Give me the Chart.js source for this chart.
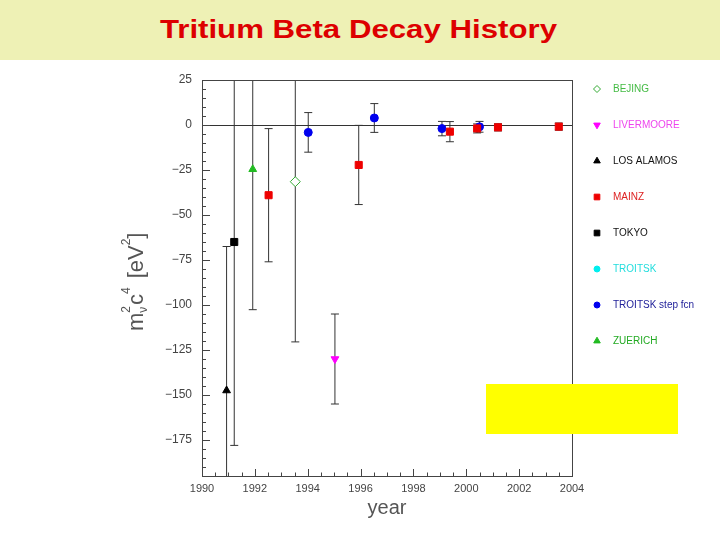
<!DOCTYPE html>
<html>
<head>
<meta charset="utf-8">
<script src="https://cdn.jsdelivr.net/npm/chart.js@4.4.1/dist/chart.umd.min.js"></script>
<style>
  body { margin: 0; background: #fff; width: 720px; height: 540px; position: relative; overflow: hidden; }
  #band { position: absolute; left: 0; top: 0; width: 720px; height: 60px; background: #eef1b5; text-align: center; }
  #band span { display: inline-block; margin-right: 4px; font: bold 26px "Liberation Sans", Arial, sans-serif; color: #dd0000; line-height: 58px; transform: scaleX(1.2); }
  #c { position: absolute; left: 0; top: 0; }
</style>
</head>
<body>
<div id="band"><span>Tritium Beta Decay History</span></div>
<canvas id="c" width="720" height="540"></canvas>
<script>
// axis ticks
const yearTicks = [1990, 1992, 1994, 1996, 1998, 2000, 2002, 2004];
const massTicks = [-175, -150, -125, -100, -75, -50, -25, 0, 25];

const bejingYear = [1993.53];
const bejingMass = [-31.5];
const bejingErr = [89];

const livermooreYear = [1995.03];
const livermooreMass = [-130];
const livermooreErr = [25];

const losAlamosYear = [1990.93];
const losAlamosMass = [-147.5];
const losAlamosErr = [80];

const mainzYear = [1992.52, 1995.93, 1999.38, 2000.41, 2001.2, 2003.5];
const mainzMass = [-39, -22.2, -3.7, -1.9, -1.3, -0.9];
const mainzErr = [37, 22, 5.6, 2.5, 2, 2];

const tokyoYear = [1991.22];
const tokyoMass = [-65];
const tokyoErr = [113];

const troitskYear = [];
const troitskMass = [];
const troitskErr = [];

const stepYear = [1994.02, 1996.52, 1999.08, 2000.5];
const stepMass = [-4.1, 3.9, -2.0, -1.0];
const stepErr = [11, 8, 4, 3];

const zuerichYear = [1991.92];
const zuerichMass = [-24.6];
const zuerichErr = [78];

function pts(xs, ys) {
    return xs.map((x, i) => ({ x: x, y: ys[i] }));
}

const FONT = '"Liberation Sans", Arial, sans-serif';

const extras = {
    id: "extras",
    beforeDatasetsDraw(chart) {
        const { ctx, chartArea: a, scales: { x, y } } = chart;
        ctx.save();
        ctx.beginPath();
        ctx.rect(a.left, a.top, a.right - a.left, a.bottom - a.top);
        ctx.clip();
        ctx.strokeStyle = "#333";
        ctx.lineWidth = 1;
        chart.data.datasets.forEach(ds => {
            ds.data.forEach((p, i) => {
                const e = ds.errors[i];
                const px = x.getPixelForValue(p.x);
                const top = y.getPixelForValue(p.y + e);
                const bot = y.getPixelForValue(p.y - e);
                ctx.beginPath();
                ctx.moveTo(px, top); ctx.lineTo(px, bot);
                ctx.moveTo(px - 4, top); ctx.lineTo(px + 4, top);
                ctx.moveTo(px - 4, bot); ctx.lineTo(px + 4, bot);
                ctx.stroke();
            });
        });
        ctx.restore();
    },
    afterDraw(chart) {
        const { ctx, chartArea: a, scales: { x, y } } = chart;
        ctx.save();

        // frame
        ctx.strokeStyle = "#444";
        ctx.lineWidth = 1;
        ctx.strokeRect(a.left + 0.5, a.top + 0.5, a.right - a.left, a.bottom - a.top);

        // inward ticks
        ctx.beginPath();
        for (let v = -195; v <= 25; v += 5) {
            const py = Math.round(y.getPixelForValue(v)) + 0.5;
            const len = v % 25 === 0 ? 8 : 4;
            ctx.moveTo(a.left, py); ctx.lineTo(a.left + len, py);
        }
        for (let v = 1990; v <= 2004; v += 0.5) {
            const px = Math.round(x.getPixelForValue(v)) + 0.5;
            const len = v % 2 === 0 ? 7 : 3.5;
            ctx.moveTo(px, a.bottom); ctx.lineTo(px, a.bottom - len);
        }
        ctx.stroke();

        // y axis title  m_nu^2 c^4 [eV^2]
        ctx.save();
        ctx.translate(143, 331);
        ctx.rotate(-Math.PI / 2);
        ctx.fillStyle = "#555";
        const big = "22px " + FONT, small = "12px " + FONT;
        let u = 0;
        ctx.font = big; ctx.fillText("m", u, 0); u += ctx.measureText("m").width;
        ctx.font = small; ctx.fillText("\u03bd", u, 4); ctx.fillText("2", u, -13); u += ctx.measureText("2").width + 1;
        ctx.font = big; ctx.fillText("c", u, 0); u += ctx.measureText("c").width;
        ctx.font = small; ctx.fillText("4", u, -13); u += ctx.measureText("4").width + 9;
        ctx.font = big; ctx.fillText("[eV", u, 0); u += ctx.measureText("[eV").width;
        ctx.font = small; ctx.fillText("2", u, -13); u += ctx.measureText("2").width;
        ctx.font = big; ctx.fillText("]", u, 0);
        ctx.restore();

        // legend
        ctx.font = "10px " + FONT;
        ctx.textBaseline = "middle";
        chart.data.datasets.forEach((ds, i) => {
            const ly = 89 + i * 36;
            ctx.fillStyle = ds.backgroundColor;
            ctx.strokeStyle = ds.borderColor;
            Chart.helpers.drawPoint(ctx, {
                pointStyle: ds.pointStyle,
                radius: ds.legendRadius,
                rotation: ds.rotation || 0,
                borderWidth: 1
            }, 597, ly);
            ctx.fillStyle = ds.legendColor;
            ctx.fillText(ds.label, 613, ly);
        });

        // yellow box
        ctx.fillStyle = "#ffff00";
        ctx.fillRect(486, 384, 192, 50);
        ctx.restore();
    }
};

new Chart(document.getElementById("c"), {
    type: "scatter",
    data: {
        datasets: [
            { label: "BEJING", data: pts(bejingYear, bejingMass), errors: bejingErr,
              pointStyle: "rectRot", pointRadius: 5, backgroundColor: "#ffffff", borderColor: "#33aa33",
              borderWidth: 1, legendColor: "#44bb44", legendRadius: 3.5 },
            { label: "LIVERMOORE", data: pts(livermooreYear, livermooreMass), errors: livermooreErr,
              pointStyle: "triangle", rotation: 180, pointRadius: 4.5, backgroundColor: "#ff00ff", borderColor: "#ff00ff",
              borderWidth: 1, legendColor: "#ee44ee", legendRadius: 3.8 },
            { label: "LOS ALAMOS", data: pts(losAlamosYear, losAlamosMass), errors: losAlamosErr,
              pointStyle: "triangle", pointRadius: 4.5, backgroundColor: "#000000", borderColor: "#000000",
              borderWidth: 1, legendColor: "#111111", legendRadius: 3.8 },
            { label: "MAINZ", data: pts(mainzYear, mainzMass), errors: mainzErr,
              pointStyle: "rect", pointRadius: 5, backgroundColor: "#ee0000", borderColor: "#ee0000",
              borderWidth: 1, legendColor: "#dd2222", legendRadius: 4 },
            { label: "TOKYO", data: pts(tokyoYear, tokyoMass), errors: tokyoErr,
              pointStyle: "rect", pointRadius: 5, backgroundColor: "#000000", borderColor: "#000000",
              borderWidth: 1, legendColor: "#111111", legendRadius: 4 },
            { label: "TROITSK", data: pts(troitskYear, troitskMass), errors: troitskErr,
              pointStyle: "circle", pointRadius: 4, backgroundColor: "#00eeee", borderColor: "#00eeee",
              borderWidth: 1, legendColor: "#22dddd", legendRadius: 3 },
            { label: "TROITSK step fcn", data: pts(stepYear, stepMass), errors: stepErr,
              pointStyle: "circle", pointRadius: 4, backgroundColor: "#0000ee", borderColor: "#0000ee",
              borderWidth: 1, legendColor: "#22229a", legendRadius: 3 },
            { label: "ZUERICH", data: pts(zuerichYear, zuerichMass), errors: zuerichErr,
              pointStyle: "triangle", pointRadius: 4.5, backgroundColor: "#22bb22", borderColor: "#22bb22",
              borderWidth: 1, legendColor: "#22aa22", legendRadius: 3.8 }
        ]
    },
    options: {
        responsive: false,
        animation: false,
        layout: { padding: { left: 160, right: 148, top: 80, bottom: 0 } },
        plugins: {
            legend: { display: false },
            tooltip: { enabled: false }
        },
        scales: {
            x: {
                type: "linear",
                min: 1990,
                max: 2004,
                afterBuildTicks: s => { s.ticks = yearTicks.map(v => ({ value: v })); },
                afterFit: s => { s.height = 64; },
                grid: { display: false, drawTicks: false },
                border: { display: false },
                ticks: { padding: 6, color: "#444", font: { family: FONT, size: 11 }, maxRotation: 0,
                         callback: v => String(v) },
                title: { display: true, text: "year", color: "#555", font: { family: FONT, size: 20 },
                         padding: { top: 0, bottom: 20 } }
            },
            y: {
                min: -195,
                max: 25,
                afterBuildTicks: s => { s.ticks = massTicks.map(v => ({ value: v })); },
                afterFit: s => { s.width = 42; },
                grid: { drawTicks: false, color: c => (c.tick && c.tick.value === 0 ? "#333" : "rgba(0,0,0,0)") },
                border: { display: false },
                ticks: { padding: 10, color: "#444", font: { family: FONT, size: 12 },
                         callback: v => (v < 0 ? "\u2212" + (-v) : "" + v) }
            }
        }
    },
    plugins: [extras]
});
</script>
</body>
</html>
